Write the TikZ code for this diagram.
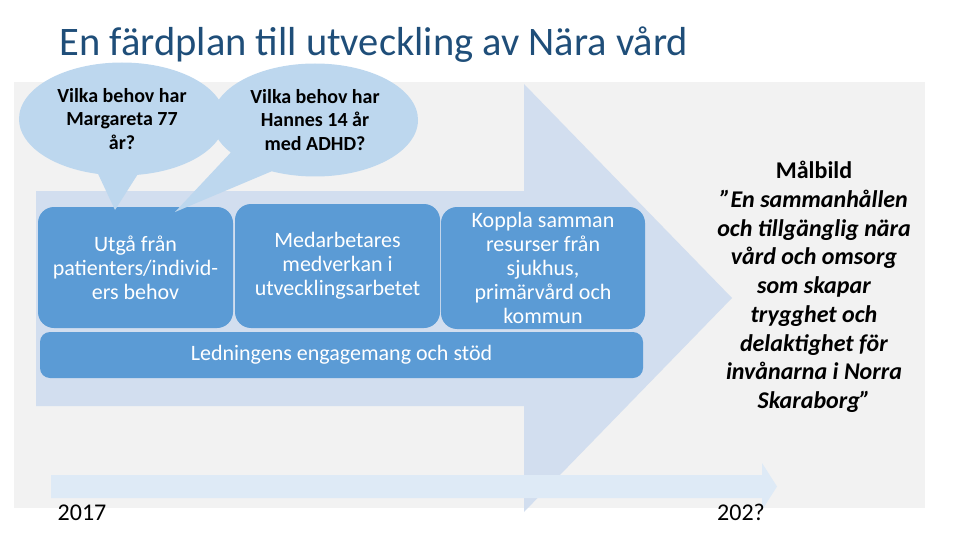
\documentclass[tikz,border=0pt]{standalone}
\usepackage{fontspec}
\setmainfont{Carlito}
\usetikzlibrary{shapes.callouts}
\definecolor{bggray}{HTML}{F2F2F2}
\definecolor{arrowbl}{HTML}{D2DEEF}
\definecolor{bubblebl}{HTML}{BDD7EE}
\definecolor{boxbl}{HTML}{5B9BD5}
\definecolor{timebl}{HTML}{DEEAF6}
\definecolor{titlebl}{HTML}{1F4E79}

\begin{document}
\begin{tikzpicture}[x=1pt,y=-1pt,
    bubble/.style={ellipse callout,fill=bubblebl,inner sep=0pt,align=center,
      minimum width=206pt,minimum height=113pt,callout pointer arc=22,
      font=\bfseries\fontsize{20}{23.5}\selectfont},
    planbox/.style={fill=boxbl,rounded corners=16pt,inner sep=0pt,text=white,align=center,
      font=\fontsize{22}{24}\selectfont},
    yearlabel/.style={anchor=base,font=\fontsize{24}{26}\selectfont}]
    \useasboundingbox (0,0) rectangle (960,540);
    \fill[bggray] (14,82) rectangle (925,508);
    \coordinate (A) at (36,191);
    \coordinate (B) at (524,191);
    \coordinate (C) at (524,84);
    \coordinate (D) at (732,298);
    \coordinate (E) at (524,512);
    \coordinate (F) at (524,406);
    \coordinate (G) at (36,406);
    \fill[arrowbl] (A) -- (B) -- (C) -- (D) -- (E) -- (F) -- (G) -- cycle;
    \coordinate (T1) at (51,475);
    \coordinate (T2) at (762,475);
    \coordinate (T3) at (762,463);
    \coordinate (T4) at (777,486.5);
    \coordinate (T5) at (762,510);
    \coordinate (T6) at (762,498);
    \coordinate (T7) at (51,498);
    \fill[timebl] (T1) -- (T2) -- (T3) -- (T4) -- (T5) -- (T6) -- (T7) -- cycle;
    \node[anchor=base west,text=titlebl,font=\fontsize{40.5}{44}\selectfont] (title) at (56,56)
        {En färdplan till utveckling av Nära vård};
    \node[planbox,minimum width=195pt,minimum height=121pt] (utga) at (135.5,267.5)
        {Utgå från\\patienters/individ-\\ers behov};
    \node[planbox,minimum width=205pt,minimum height=124pt] (medarb) at (337.5,266)
        {Medarbetares\\medverkan i\\utvecklingsarbetet};
    \node[planbox,minimum width=204pt,minimum height=122pt] (koppla) at (543,268)
        {Koppla samman\\resurser från\\sjukhus,\\primärvård och\\kommun};
    \node[planbox,minimum width=603pt,minimum height=46pt,rounded corners=10pt] (ledning) at (341.5,355)
        {Ledningens engagemang och stöd};
    \node[bubble,callout absolute pointer={(115,210)}] (margareta) at (122,119)
        {Vilka behov har\\Margareta 77\\år?};
    \node[bubble,callout absolute pointer={(175,212)},callout pointer arc=30] (hannes) at (315,120)
        {Vilka behov har\\Hannes 14 år\\med ADHD?};
    \node[align=center,font=\bfseries\fontsize{24}{28.75}\selectfont] (malbild) at (814,287)
        {Målbild\\\textit{”En sammanhållen}\\\textit{och tillgänglig nära}\\\textit{vård och omsorg}\\
         \textit{som skapar}\\\textit{trygghet och}\\\textit{delaktighet för}\\
         \textit{invånarna i Norra}\\\textit{Skaraborg”}};
    \node[yearlabel] (start) at (82,520) {2017};
    \node[yearlabel] (slut) at (741,520) {202?};
\end{tikzpicture}
\end{document}
